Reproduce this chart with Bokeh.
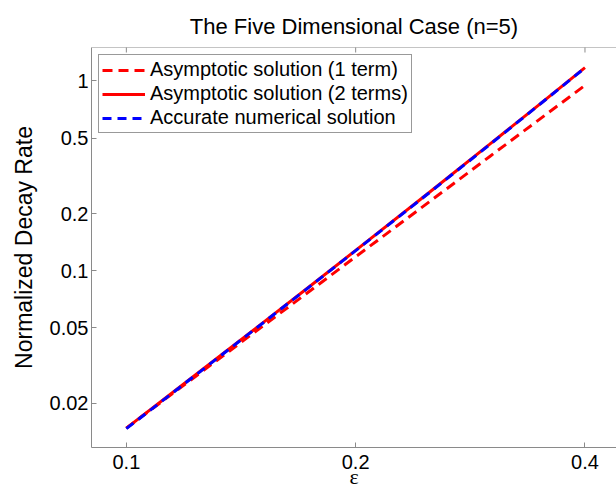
import math
from bokeh.plotting import figure
from bokeh.models import FixedTicker, Range1d, Legend, LegendItem, Span
from bokeh.embed import file_html
from bokeh.resources import INLINE

# ---- data ----
eps = [0.1, 0.125, 0.15, 0.175, 0.2, 0.25, 0.3, 0.35, 0.4]
one_term = [0.0148, 0.0289, 0.0500, 0.0793, 0.1184, 0.231, 0.400, 0.635, 0.947]
two_terms = [0.0148, 0.0295, 0.0520, 0.0841, 0.1279, 0.259, 0.464, 0.762, 1.174]
numerical = [0.0147, 0.0294, 0.0518, 0.0838, 0.1275, 0.258, 0.462, 0.760, 1.172]

x_ticks = [0.1, 0.2, 0.4]
x_tick_labels = ["0.1", "0.2", "0.4"]
y_ticks = [0.02, 0.05, 0.1, 0.2, 0.5, 1]
y_tick_labels = ["0.02", "0.05", "0.1", "0.2", "0.5", "1"]

X_MIN, X_MAX = 0.09, 0.44
Y_MIN, Y_MAX = 0.0117, 1.5

FONT = "Liberation Sans"
AXIS_GRAY = "#8a8a8a"

p = figure(frame_width=525, frame_height=400, x_axis_type="log", y_axis_type="log",
           x_range=Range1d(X_MIN, X_MAX), y_range=Range1d(Y_MIN, Y_MAX),
           output_backend="svg", toolbar_location=None,
           title="The Five Dimensional Case (n=5)")
p.min_border_left = 91
p.min_border_right = 0
p.min_border_top = 47
p.min_border_bottom = 46
p.outline_line_color = None
p.background_fill_color = "white"
p.border_fill_color = "white"
p.xgrid.visible = False
p.ygrid.visible = False

p.title.align = "center"
p.title.offset = 10
p.title.text_font = FONT
p.title.text_font_size = "22px"
p.title.text_font_style = "normal"
p.title.text_color = "black"
p.title.standoff = 17

def style_axis(ax):
    ax.axis_line_color = AXIS_GRAY
    ax.axis_line_width = 1
    ax.major_tick_line_color = AXIS_GRAY
    ax.major_tick_in = 5
    ax.major_tick_out = 0
    ax.minor_tick_line_color = None
    ax.major_label_text_font = FONT
    ax.major_label_text_font_size = "20px"
    ax.major_label_text_color = "black"
    ax.axis_label_text_font_style = "normal"
    ax.axis_label_text_color = "black"

xa = p.xaxis[0]
style_axis(xa)
xa.ticker = FixedTicker(ticks=x_ticks)
xa.major_label_overrides = dict(zip(x_ticks, x_tick_labels))
xa.major_label_standoff = 7
xa.axis_label = "ε"
xa.axis_label_text_font = "Liberation Serif"
xa.axis_label_text_font_size = "22px"
xa.axis_label_standoff = -8

ya = p.yaxis[0]
style_axis(ya)
ya.ticker = FixedTicker(ticks=y_ticks)
ya.major_label_overrides = dict(zip(y_ticks, y_tick_labels))
ya.major_label_standoff = 3
ya.axis_label = "Normalized Decay Rate"
ya.axis_label_text_font = FONT
ya.axis_label_text_font_size = "23px"
ya.axis_label_standoff = 10

# top border of the box and its inward ticks
p.add_layout(Span(location=Y_MAX, dimension="width", line_color=AXIS_GRAY, line_width=1))
p.scatter(x=x_ticks, y=[Y_MAX] * len(x_ticks), marker="dash", angle=math.pi / 2,
          size=10, line_color=AXIS_GRAY, line_width=1)

r1 = p.line(eps, one_term, line_color="#ff0000", line_width=3, line_dash="10 6")
r2 = p.line(eps, two_terms, line_color="#ff0000", line_width=3)
r3 = p.line(eps, numerical, line_color="#0000ff", line_width=3, line_dash="9 6")

legend = Legend(items=[
    LegendItem(label="Asymptotic solution (1 term)", renderers=[r1]),
    LegendItem(label="Asymptotic solution (2 terms)", renderers=[r2]),
    LegendItem(label="Accurate numerical solution", renderers=[r3]),
], location="top_left")
legend.margin = 7
legend.padding = 3
legend.spacing = 1
legend.glyph_width = 43
legend.glyph_height = 20
legend.label_height = 20
legend.label_standoff = 5
legend.label_text_font = FONT
legend.label_text_font_size = "20px"
legend.label_text_color = "black"
legend.border_line_color = "#333333"
legend.border_line_width = 1
legend.background_fill_alpha = 1
p.add_layout(legend)

open("out.html", "w").write(file_html(p, INLINE))
